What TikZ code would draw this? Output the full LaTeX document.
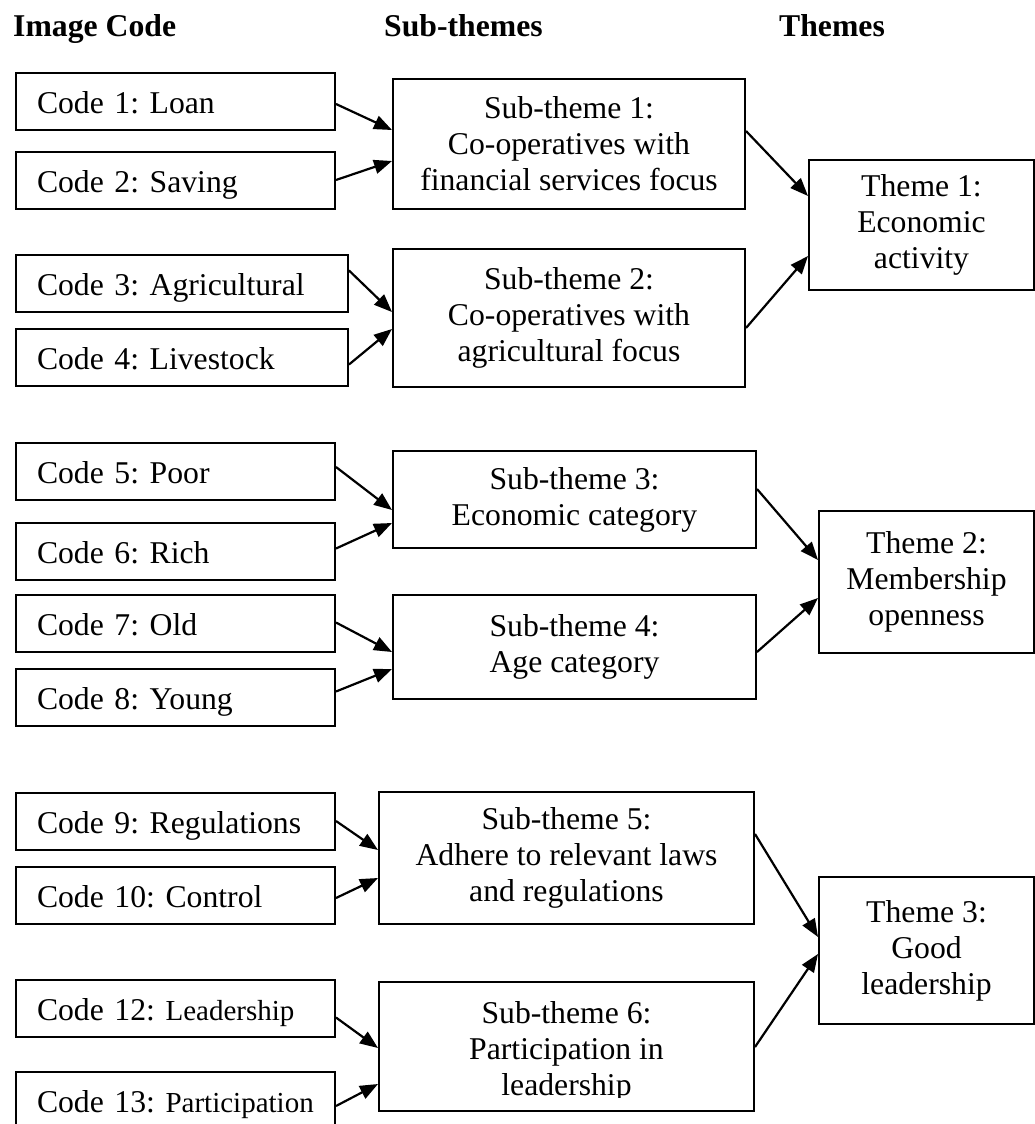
\documentclass[tikz,border=0pt]{standalone}
\usepackage{fontspec}
\setmainfont{Liberation Serif}
\usetikzlibrary{arrows.meta}
\frenchspacing
\hyphenpenalty=10000
\exhyphenpenalty=10000
\newcommand\smtext{\fontsize{29pt}{33pt}\selectfont}
\begin{document}
\begin{tikzpicture}[x=1pt,y=-1pt,
  base/.style={draw, line width=2pt, anchor=north west, inner sep=0pt,
    font=\fontsize{31.7pt}{36pt}\selectfont},
  codebox/.style={base, minimum height=57pt, text width=#1, inner xsep=21pt,
    align=left, text height=23pt, text depth=0pt},
  subbox/.style 2 args={base, align=center, minimum width=#1, minimum height=#2},
  hdr/.style={anchor=base west, inner sep=0pt, font=\fontsize{31.7pt}{36pt}\selectfont\bfseries},
  arr/.style={line width=2.2pt, -{Triangle[length=18pt,width=14pt]}}
]
\useasboundingbox (0,0) rectangle (1035,1124);

% headers
\node[hdr] (h1) at (13,37) {Image Code};
\node[hdr] (h2) at (384,37) {Sub-themes};
\node[hdr] (h3) at (779,37) {Themes};

% codes
\node[codebox=277pt] (c1) at (15,72) {Code 1: Loan};
\node[codebox=277pt] (c2) at (15,151) {Code 2: Saving};
\node[codebox=290pt] (c3) at (15,254) {Code 3: Agricultural};
\node[codebox=290pt] (c4) at (15,328) {Code 4: Livestock};
\node[codebox=277pt] (c5) at (15,442) {Code 5: Poor};
\node[codebox=277pt] (c6) at (15,522) {Code 6: Rich};
\node[codebox=277pt] (c7) at (15,594) {Code 7: Old};
\node[codebox=277pt] (c8) at (15,668) {Code 8: Young};
\node[codebox=277pt] (c9) at (15,792) {Code 9: Regulations};
\node[codebox=277pt] (c10) at (15,866) {Code 10: Control};
\node[codebox=277pt] (c12) at (15,979) {Code 12: {\smtext Leadership}};
\node[codebox=277pt] (c13) at (15,1071) {Code 13: {\smtext Participation}};

% sub-themes
\node[subbox={352pt}{130pt}] (s1) at (392,78) {Sub-theme 1:\\Co-operatives with\\financial services focus};
\node[subbox={352pt}{138pt}] (s2) at (392,248) {Sub-theme 2:\\Co-operatives with\\agricultural focus};
\node[subbox={363pt}{97pt}] (s3) at (392,450) {Sub-theme 3:\\Economic category};
\node[subbox={363pt}{104pt}] (s4) at (392,594) {Sub-theme 4:\\Age category};
\node[subbox={375pt}{132pt}] (s5) at (378,791) {Sub-theme 5:\\Adhere to relevant laws\\and regulations};
\node[subbox={375pt}{129pt}] (s6) at (378,981) {};
\begin{scope}
  \clip (378,981) rectangle (753,1097);
  \node[align=center, inner sep=0pt, font=\fontsize{31.7pt}{36pt}\selectfont] (s6t)
    at ([yshift=-5pt]s6.center) {Sub-theme 6:\\Participation in\\leadership};
\end{scope}

% themes
\node[subbox={225pt}{130pt}] (t1) at (808,159) {Theme 1:\\Economic\\activity};
\node[subbox={215pt}{142pt}] (t2) at (818,510) {Theme 2:\\Membership\\openness};
\node[subbox={215pt}{147pt}] (t3) at (818,876) {Theme 3:\\Good\\leadership};

% connectors
\draw[arr] ([yshift=-2.5pt]c1.east) -- ([yshift=14pt]s1.west);
\draw[arr] ([yshift=0.5pt]c2.east) -- ([yshift=-17pt]s1.west);
\draw[arr] ([yshift=13pt]c3.east) -- ([yshift=6pt]s2.west);
\draw[arr] ([yshift=-7pt]c4.east) -- ([yshift=-11pt]s2.west);
\draw[arr] ([yshift=4.5pt]c5.east) -- ([yshift=-10.5pt]s3.west);
\draw[arr] ([yshift=3pt]c6.east) -- ([yshift=-23.5pt]s3.west);
\draw[arr] ([yshift=1pt]c7.east) -- ([yshift=-5pt]s4.west);
\draw[arr] ([yshift=6pt]c8.east) -- ([yshift=-22pt]s4.west);
\draw[arr] ([yshift=0.5pt]c9.east) -- ([yshift=8pt]s5.west);
\draw[arr] ([yshift=-2.5pt]c10.east) -- ([yshift=-20pt]s5.west);
\draw[arr] ([yshift=-9pt]c12.east) -- ([yshift=-1.5pt]s6.west);
\draw[arr] ([yshift=-5.5pt]c13.east) -- ([yshift=-37.5pt]s6.west);
\draw[arr] ([yshift=13pt]s1.east) -- ([yshift=29pt]t1.west);
\draw[arr] ([yshift=-10pt]s2.east) -- ([yshift=-31pt]t1.west);
\draw[arr] ([yshift=10.5pt]s3.east) -- ([yshift=22pt]t2.west);
\draw[arr] ([yshift=-5pt]s4.east) -- ([yshift=-16pt]t2.west);
\draw[arr] ([yshift=24pt]s5.east) -- ([yshift=13.5pt]t3.west);
\draw[arr] ([yshift=-0.5pt]s6.east) -- ([yshift=-3.5pt]t3.west);
\end{tikzpicture}
\end{document}
